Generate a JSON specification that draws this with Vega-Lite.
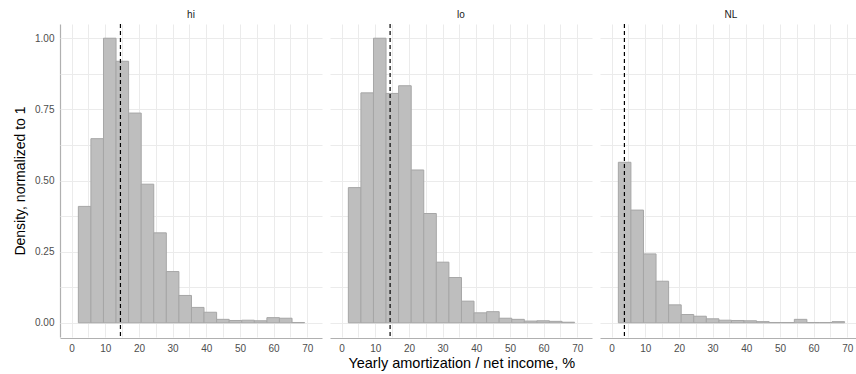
{
  "$schema": "https://vega.github.io/schema/vega-lite/v6.json",
  "autosize": {"type": "pad"},
  "padding": {"left": 13, "top": 10, "right": 0, "bottom": 0},
  "background": "white",
  "title": {
    "text": "Yearly amortization / net income, %",
    "orient": "bottom",
    "anchor": "middle",
    "fontSize": 14.5,
    "fontWeight": "normal",
    "color": "#000000",
    "font": "Liberation Sans",
    "offset": 4,
    "dx": 24
  },
  "config": {
    "view": {"stroke": null},
    "font": "Liberation Sans",
    "axis": {
      "domainColor": "#b0b0b0",
      "domainWidth": 1.2,
      "ticks": false,
      "gridColor": "#ebebeb",
      "gridWidth": 1,
      "labelColor": "#4d4d4d",
      "labelFontSize": 10,
      "labelOverlap": false,
      "titleFontSize": 14,
      "titleColor": "#000000",
      "titleFontWeight": "normal"
    }
  },
  "data": {
    "values": [
      {"panel": "hi", "x0": 2.0, "x1": 5.73, "density": 0.409},
      {"panel": "hi", "x0": 5.73, "x1": 9.47, "density": 0.647},
      {"panel": "hi", "x0": 9.47, "x1": 13.2, "density": 1.0},
      {"panel": "hi", "x0": 13.2, "x1": 16.93, "density": 0.919},
      {"panel": "hi", "x0": 16.93, "x1": 20.67, "density": 0.737},
      {"panel": "hi", "x0": 20.67, "x1": 24.4, "density": 0.487},
      {"panel": "hi", "x0": 24.4, "x1": 28.13, "density": 0.316},
      {"panel": "hi", "x0": 28.13, "x1": 31.87, "density": 0.18},
      {"panel": "hi", "x0": 31.87, "x1": 35.6, "density": 0.096},
      {"panel": "hi", "x0": 35.6, "x1": 39.33, "density": 0.054},
      {"panel": "hi", "x0": 39.33, "x1": 43.07, "density": 0.037},
      {"panel": "hi", "x0": 43.07, "x1": 46.8, "density": 0.012},
      {"panel": "hi", "x0": 46.8, "x1": 50.53, "density": 0.008},
      {"panel": "hi", "x0": 50.53, "x1": 54.27, "density": 0.009},
      {"panel": "hi", "x0": 54.27, "x1": 58.0, "density": 0.007},
      {"panel": "hi", "x0": 58.0, "x1": 61.73, "density": 0.018},
      {"panel": "hi", "x0": 61.73, "x1": 65.47, "density": 0.016},
      {"panel": "hi", "x0": 65.47, "x1": 69.2, "density": 0.001},
      {"panel": "lo", "x0": 2.0, "x1": 5.73, "density": 0.475},
      {"panel": "lo", "x0": 5.73, "x1": 9.47, "density": 0.808},
      {"panel": "lo", "x0": 9.47, "x1": 13.2, "density": 1.0},
      {"panel": "lo", "x0": 13.2, "x1": 16.93, "density": 0.806},
      {"panel": "lo", "x0": 16.93, "x1": 20.67, "density": 0.833},
      {"panel": "lo", "x0": 20.67, "x1": 24.4, "density": 0.537},
      {"panel": "lo", "x0": 24.4, "x1": 28.13, "density": 0.384},
      {"panel": "lo", "x0": 28.13, "x1": 31.87, "density": 0.213},
      {"panel": "lo", "x0": 31.87, "x1": 35.6, "density": 0.159},
      {"panel": "lo", "x0": 35.6, "x1": 39.33, "density": 0.076},
      {"panel": "lo", "x0": 39.33, "x1": 43.07, "density": 0.035},
      {"panel": "lo", "x0": 43.07, "x1": 46.8, "density": 0.039},
      {"panel": "lo", "x0": 46.8, "x1": 50.53, "density": 0.016},
      {"panel": "lo", "x0": 50.53, "x1": 54.27, "density": 0.012},
      {"panel": "lo", "x0": 54.27, "x1": 58.0, "density": 0.006},
      {"panel": "lo", "x0": 58.0, "x1": 61.73, "density": 0.007},
      {"panel": "lo", "x0": 61.73, "x1": 65.47, "density": 0.005},
      {"panel": "lo", "x0": 65.47, "x1": 69.2, "density": 0.002},
      {"panel": "NL", "x0": 2.0, "x1": 5.73, "density": 0.564},
      {"panel": "NL", "x0": 5.73, "x1": 9.47, "density": 0.396},
      {"panel": "NL", "x0": 9.47, "x1": 13.2, "density": 0.242},
      {"panel": "NL", "x0": 13.2, "x1": 16.93, "density": 0.146},
      {"panel": "NL", "x0": 16.93, "x1": 20.67, "density": 0.063},
      {"panel": "NL", "x0": 20.67, "x1": 24.4, "density": 0.029},
      {"panel": "NL", "x0": 24.4, "x1": 28.13, "density": 0.023},
      {"panel": "NL", "x0": 28.13, "x1": 31.87, "density": 0.014},
      {"panel": "NL", "x0": 31.87, "x1": 35.6, "density": 0.009},
      {"panel": "NL", "x0": 35.6, "x1": 39.33, "density": 0.008},
      {"panel": "NL", "x0": 39.33, "x1": 43.07, "density": 0.007},
      {"panel": "NL", "x0": 43.07, "x1": 46.8, "density": 0.004},
      {"panel": "NL", "x0": 46.8, "x1": 50.53, "density": 0.001},
      {"panel": "NL", "x0": 50.53, "x1": 54.27, "density": 0.001},
      {"panel": "NL", "x0": 54.27, "x1": 58.0, "density": 0.012},
      {"panel": "NL", "x0": 58.0, "x1": 61.73, "density": 0.001},
      {"panel": "NL", "x0": 61.73, "x1": 65.47, "density": 0.001},
      {"panel": "NL", "x0": 65.47, "x1": 69.2, "density": 0.004},
      {"panel": "hi", "median": 14.5},
      {"panel": "lo", "median": 14.4},
      {"panel": "NL", "median": 3.8}
    ]
  },
  "facet": {
    "column": {
      "field": "panel",
      "type": "nominal",
      "sort": ["hi", "lo", "NL"],
      "header": {"title": null, "labelFontSize": 10, "labelColor": "#1a1a1a", "labelPadding": 3, "labelFont": "Liberation Sans"}
    }
  },
  "spacing": 8,
  "spec": {
    "width": 262,
    "height": 313,
    "layer": [
      {
        "transform": [{"filter": "isValid(datum.density)"}],
        "mark": {"type": "rect", "fill": "#bebebe", "stroke": "#a6a6a6", "strokeWidth": 1},
        "encoding": {
          "x": {
            "field": "x0",
            "type": "quantitative",
            "title": null,
            "scale": {"domain": [-3.45, 74.37], "nice": false, "zero": false},
            "axis": {
              "values": [0, 5, 10, 15, 20, 25, 30, 35, 40, 45, 50, 55, 60, 65, 70],
              "labelExpr": "datum.value % 10 == 0 ? datum.label : ''",
              "labelPadding": 5
            }
          },
          "x2": {"field": "x1"},
          "y": {
            "field": "density",
            "type": "quantitative",
            "title": "Density, normalized to 1",
            "scale": {"domain": [-0.05, 1.05], "nice": false, "zero": false},
            "axis": {
              "values": [0, 0.125, 0.25, 0.375, 0.5, 0.625, 0.75, 0.875, 1],
              "labelExpr": "(datum.value * 4) % 1 == 0 ? format(datum.value, '.2f') : ''",
              "labelPadding": 6,
              "titlePadding": 7
            }
          },
          "y2": {"datum": 0}
        }
      },
      {
        "transform": [{"filter": "isValid(datum.median)"}],
        "mark": {"type": "rule", "color": "#000000", "strokeDash": [4, 3], "strokeWidth": 1.2},
        "encoding": {
          "x": {
            "field": "median",
            "type": "quantitative",
            "title": null,
            "scale": {"domain": [-3.45, 74.37], "nice": false, "zero": false},
            "axis": {
              "values": [0, 5, 10, 15, 20, 25, 30, 35, 40, 45, 50, 55, 60, 65, 70],
              "labelExpr": "datum.value % 10 == 0 ? datum.label : ''",
              "labelPadding": 5
            }
          }
        }
      }
    ]
  }
}
